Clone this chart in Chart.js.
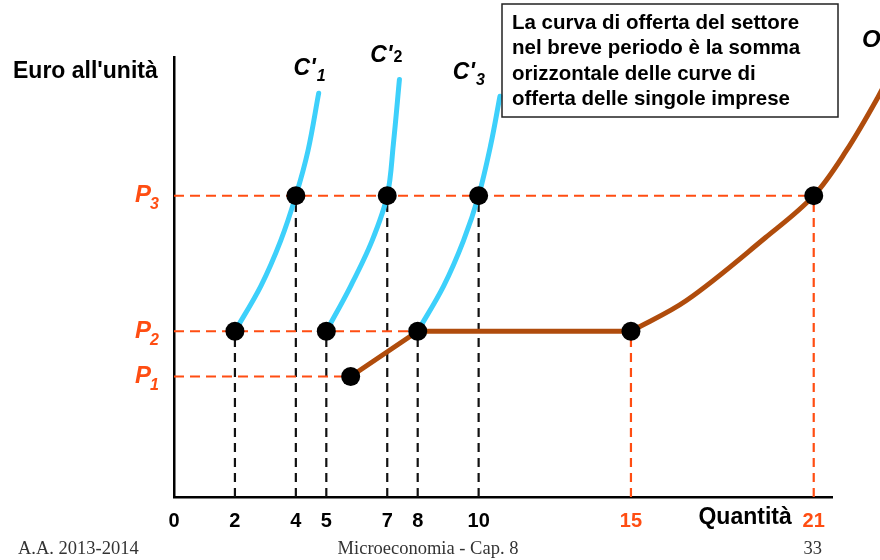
<!DOCTYPE html>
<html><head><meta charset="utf-8">
<script src="https://cdn.jsdelivr.net/npm/chart.js@4.4.0/dist/chart.umd.min.js"></script>
<style>html,body{margin:0;padding:0;background:#fff;}canvas{display:block}</style>
</head><body>
<canvas id="c" width="880" height="560"></canvas>
<script>
// ---- data ----
const quantityTicks = [0, 2, 4, 5, 7, 8, 10, 15, 21];
const orangeTicks = [15, 21];
const priceNames = ['1', '2', '3'];
const prices = [4, 5.5, 10];

const c1X = [2, 2.85, 3.5, 4, 4.4, 4.75];
const c1Y = [5.5, 7, 8.5, 10, 11.5, 13.4];
const c2X = [5, 5.8, 6.5, 7, 7.2, 7.4];
const c2Y = [5.5, 7, 8.5, 10, 11.7, 13.85];
const c3X = [8, 8.85, 9.5, 10, 10.4, 10.7];
const c3Y = [5.5, 7, 8.5, 10, 11.7, 13.3];

const supplyX = [5.8, 8, 15, 16.82, 19.42, 21, 22.07, 23.1, 23.6];
const supplyY = [4, 5.5, 5.5, 6.52, 8.61, 10, 11.49, 13.25, 14.24];

const dotX = [2, 5, 8, 15, 5.8, 4, 7, 10, 21];
const dotY = [5.5, 5.5, 5.5, 5.5, 4, 10, 10, 10, 10];
const guideX = [2, 4, 5, 7, 8, 10, 15, 21];

const curveNames = ['1', '2', '3'];

// ---- styles ----
const ORANGE = '#ff4d12';
const BLUE = '#3dd0fb';
const BROWN = '#b04c0c';
const FONT = '"Liberation Sans", Arial, sans-serif';
const X_MAX = 21.6;

const pts = (xs, ys) => xs.map((x, i) => ({x: x, y: ys[i]}));

const datasets = [];
datasets.push({data: pts(dotX, dotY), showLine: false, pointRadius: 9.5, pointBackgroundColor: '#000', pointBorderWidth: 0, order: 0});
[[c1X, c1Y], [c2X, c2Y], [c3X, c3Y]].forEach(([xs, ys]) => {
  datasets.push({data: pts(xs, ys), showLine: true, borderColor: BLUE, borderWidth: 5, pointRadius: 0,
    tension: 0.35, borderCapStyle: 'round', order: 1});
});
datasets.push({data: pts(supplyX.slice(0, 3), supplyY.slice(0, 3)), showLine: true, borderColor: BROWN, borderWidth: 5,
  pointRadius: 0, tension: 0, order: 1, borderJoinStyle: 'round'});
datasets.push({data: pts(supplyX.slice(2), supplyY.slice(2)), showLine: true, borderColor: BROWN, borderWidth: 5,
  pointRadius: 0, tension: 0.35, order: 1, clip: false});
prices.forEach(p => {
  const xEnd = Math.max(...dotX.filter((x, i) => dotY[i] === p));
  datasets.push({data: [{x: 0, y: p}, {x: xEnd, y: p}], showLine: true, borderColor: ORANGE, borderWidth: 2,
    borderDash: [10, 6], pointRadius: 0, order: 2});
});
guideX.forEach(v => {
  const yv = dotY[dotX.indexOf(v)];
  datasets.push({data: [{x: v, y: 0}, {x: v, y: yv}], showLine: true,
    borderColor: orangeTicks.includes(v) ? ORANGE : '#111', borderWidth: 2.2,
    borderDash: [9, 6], pointRadius: 0, order: 2});
});

const textPlugin = {
  id: 'texts',
  afterDatasetsDraw(chart) {
    const ctx = chart.ctx, xs = chart.scales.x, ys = chart.scales.y;
    ctx.save();
    ctx.textBaseline = 'middle';
    ctx.fillStyle = '#000';
    ctx.font = 'bold 23px ' + FONT;
    ctx.textAlign = 'left';
    ctx.fillText("Euro all'unità", 13, 72);
    prices.forEach((p, i) => {
      const y = ys.getPixelForValue(p);
      ctx.fillStyle = ORANGE;
      ctx.font = 'italic bold 24px ' + FONT;
      ctx.textAlign = 'right';
      ctx.fillText('P', 151, y);
      ctx.font = 'italic bold 16px ' + FONT;
      ctx.textAlign = 'left';
      ctx.fillText(priceNames[i], 150, y + 9);
    });
    const tops = [[c1X, c1Y, -10, -25], [c2X, c2Y, -14, -24], [c3X, c3Y, -32, -24]];
    tops.forEach(([cx, cy, dx, dy], i) => {
      const px = xs.getPixelForValue(cx[cx.length - 1]) + dx;
      const py = ys.getPixelForValue(cy[cy.length - 1]) + dy;
      ctx.fillStyle = '#000';
      ctx.font = 'italic bold 23px ' + FONT;
      ctx.textAlign = 'right';
      ctx.fillText("C'", px + 7, py);
      ctx.font = (i === 1 ? 'bold ' : 'italic bold ') + '16px ' + FONT;
      ctx.textAlign = 'left';
      ctx.fillText(curveNames[i], px + 8, py + (i === 1 ? 2 : 8));
    });
    ctx.strokeStyle = '#222';
    ctx.lineWidth = 1.5;
    ctx.strokeRect(502, 4, 336, 113);
    ctx.fillStyle = '#000';
    ctx.font = 'bold 20.5px ' + FONT;
    ctx.textAlign = 'left';
    ['La curva di offerta del settore', 'nel breve periodo è la somma',
     'orizzontale delle curve di', 'offerta delle singole imprese'].forEach((t, i) => {
      ctx.fillText(t, 512, 23 + i * 25.5);
    });
    ctx.font = 'italic bold 24px ' + FONT;
    ctx.fillText('O', 862, 40);
    ctx.font = 'bold 23px ' + FONT;
    ctx.textAlign = 'right';
    ctx.fillText('Quantità', xs.getPixelForValue(21) - 22, 518);
    ctx.fillStyle = '#333';
    ctx.font = '18.5px "Liberation Serif", "Times New Roman", serif';
    ctx.textAlign = 'left';
    ctx.fillText('A.A. 2013-2014', 18, 549);
    ctx.textAlign = 'center';
    ctx.fillText('Microeconomia - Cap. 8', 428, 549);
    ctx.textAlign = 'right';
    ctx.fillText('33', 822, 549);
    ctx.restore();
  }
};

new Chart(document.getElementById('c'), {
  type: 'scatter',
  data: {datasets: datasets},
  options: {
    responsive: false,
    animation: false,
    events: [],
    layout: {padding: {top: 57, right: 48, left: 0, bottom: 0}},
    plugins: {legend: {display: false}, tooltip: {enabled: false}},
    scales: {
      x: {
        type: 'linear', min: 0, bounds: 'data',
        afterDataLimits: s => { s.max = X_MAX; },
        grid: {display: false, drawTicks: false},
        border: {display: true, color: '#000', width: 2.5},
        afterBuildTicks: s => { s.ticks = quantityTicks.map(v => ({value: v})); s.min = 0; s.max = X_MAX; },
        ticks: {
          autoSkip: false, maxRotation: 0, minRotation: 0, padding: 12,
          font: {family: FONT, weight: 'bold', size: 20},
          color: c => orangeTicks.includes(c.tick && c.tick.value) ? ORANGE : '#000',
          callback: v => String(v)
        },
        afterFit: s => { s.height = 63; }
      },
      y: {
        type: 'linear', min: 0, max: 14.6,
        grid: {display: false, drawTicks: false},
        border: {display: true, color: '#000', width: 2.5},
        ticks: {display: false},
        afterFit: s => { s.width = 174; }
      }
    }
  },
  plugins: [textPlugin]
});
</script>
</body></html>
